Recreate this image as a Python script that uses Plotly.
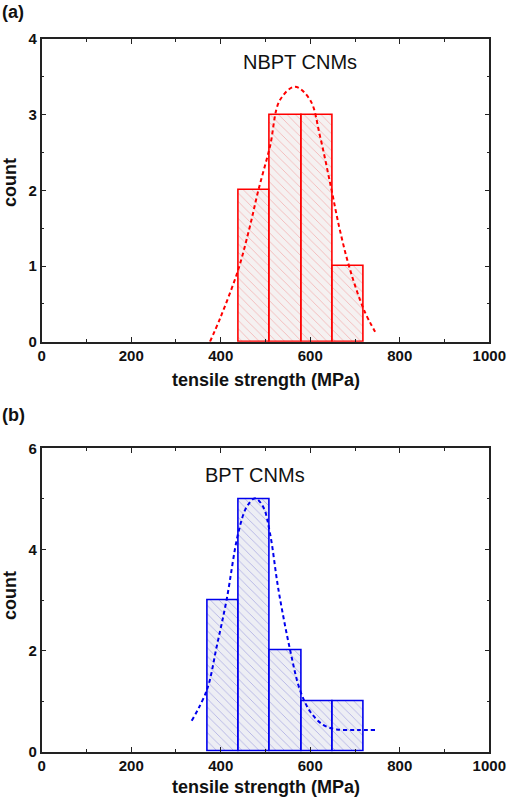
import plotly.graph_objects as go

# histogram bins (MPa), bin width 70
bin_width = 70
nbpt_centers = [475, 545, 615, 685]
nbpt_counts = [2, 3, 3, 1]
bpt_centers = [405, 475, 545, 615, 685]
bpt_counts = [3, 5, 2, 1, 1]

# fitted curves
nbpt_fit_x = [376, 400, 439, 465, 484, 510, 532, 566, 600, 622, 646, 666, 689, 720, 745]
nbpt_fit_y = [0.0, 0.33, 0.95, 1.52, 2.0, 2.58, 3.19, 3.37, 3.19, 2.71, 2.05, 1.48, 0.95, 0.42, 0.13]
bpt_fit_x = [335, 369, 391, 413, 439, 458, 477, 495, 510, 529, 555, 577, 600, 629, 659, 704, 748]
bpt_fit_y = [0.61, 1.22, 2.08, 3.0, 4.32, 4.84, 5.01, 4.84, 4.32, 3.2, 2.01, 1.22, 0.79, 0.53, 0.44, 0.43, 0.43]

xticks = [0, 200, 400, 600, 800, 1000]

FONT = "Liberation Sans, Arial, sans-serif"
AX = "#222222"

fig = go.Figure()

def add_panel(centers, counts, fx, fy, col, hatch, bg, xa, ya):
    fig.add_trace(go.Bar(
        x=centers, y=counts, width=bin_width, xaxis=xa, yaxis=ya,
        marker=dict(color=bg, line=dict(color=col, width=1.6),
                    pattern=dict(shape="\\", fgcolor=hatch, bgcolor=bg,
                                 size=6, solidity=0.15)),
        showlegend=False))
    fig.add_trace(go.Scatter(
        x=fx, y=fy, mode="lines", xaxis=xa, yaxis=ya,
        line=dict(color=col, width=2, dash="4px,3px", shape="spline"),
        showlegend=False))

add_panel(nbpt_centers, nbpt_counts, nbpt_fit_x, nbpt_fit_y,
          "#ff0000", "rgba(240,90,90,0.75)", "rgba(230,220,220,0.4)", "x", "y")
add_panel(bpt_centers, bpt_counts, bpt_fit_x, bpt_fit_y,
          "#0000ee", "rgba(70,70,200,0.7)", "rgba(215,217,232,0.45)", "x2", "y2")

xdom = [41.7 / 508, 489.3 / 508]
axis_common = dict(showline=True, linecolor=AX, linewidth=1.5, mirror="ticks",
                   ticks="inside", ticklen=5, tickwidth=1.3, tickcolor=AX,
                   showgrid=False, zeroline=False, automargin=False,
                   tickfont=dict(family=FONT, size=15, color="#111111", weight="bold"))

xaxis_common = dict(axis_common, range=[0, 1000], tickvals=xticks, domain=xdom,
                    minor=dict(ticks="inside", ticklen=3, dtick=100, tickcolor=AX))

fig.update_layout(
    width=508, height=800,
    margin=dict(l=0, r=0, t=0, b=0),
    paper_bgcolor="white", plot_bgcolor="rgba(0,0,0,0)",
    bargap=0,
    xaxis=dict(xaxis_common, anchor="y"),
    yaxis=dict(axis_common, range=[0, 4], dtick=1, anchor="x",
               domain=[1 - 341.7 / 800, 1 - 39 / 800],
               minor=dict(ticks="inside", ticklen=3, dtick=0.5, tickcolor=AX)),
    xaxis2=dict(xaxis_common, anchor="y2"),
    yaxis2=dict(axis_common, range=[0, 6], dtick=2, anchor="x2",
                domain=[1 - 751.7 / 800, 1 - 448.3 / 800],
                minor=dict(ticks="inside", ticklen=3, dtick=1, tickcolor=AX)),
)

bold = dict(family=FONT, size=18, color="#111111", weight="bold")
ann = [
    dict(text="(a)", x=0, y=1 - 12 / 800, xanchor="left", yanchor="middle"),
    dict(text="(b)", x=0, y=1 - 415 / 800, xanchor="left", yanchor="middle"),
    dict(text="tensile strength (MPa)", x=265.5 / 508, y=1 - 380 / 800,
         xanchor="center", yanchor="middle"),
    dict(text="tensile strength (MPa)", x=265.5 / 508, y=1 - 787 / 800,
         xanchor="center", yanchor="middle"),
    dict(text="count", x=10 / 508, y=1 - 183 / 800, textangle=-90,
         xanchor="center", yanchor="middle"),
    dict(text="count", x=10 / 508, y=1 - 596 / 800, textangle=-90,
         xanchor="center", yanchor="middle"),
]
for a in ann:
    fig.add_annotation(dict(a, xref="paper", yref="paper", showarrow=False, font=bold))

fig.add_annotation(text="NBPT CNMs", x=576, y=3.70, xref="x", yref="y", showarrow=False,
                   font=dict(family=FONT, size=20, color="#111111"))
fig.add_annotation(text="BPT CNMs", x=477, y=5.47, xref="x2", yref="y2", showarrow=False,
                   font=dict(family=FONT, size=20, color="#111111"))

# drop the default page margin so the 508x800 figure fills the window
fig.write_html("out.html", config={"displayModeBar": False},
               post_script="document.body.style.margin='0';document.body.style.overflow='hidden';")
